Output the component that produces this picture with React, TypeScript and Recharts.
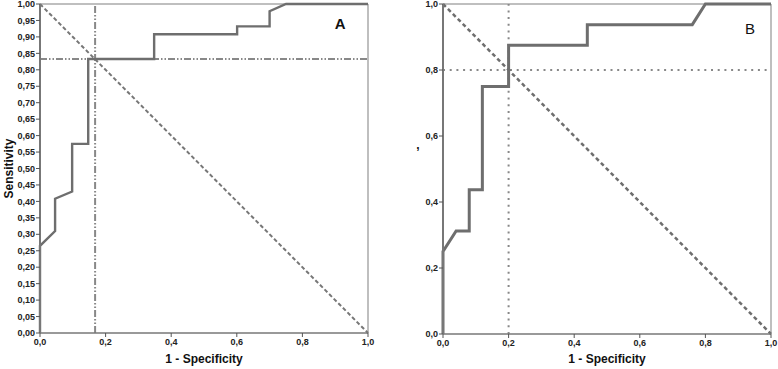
import React from 'react';
import { LineChart, Line, XAxis, YAxis, ReferenceLine, ReferenceDot } from 'recharts';

// panel A: ROC curve (1 - specificity, sensitivity)
const rocA = [
  { x: 0, y: 0 }, { x: 0, y: 0.265 }, { x: 0.046, y: 0.31 }, { x: 0.046, y: 0.408 },
  { x: 0.098, y: 0.43 }, { x: 0.098, y: 0.575 }, { x: 0.147, y: 0.575 }, { x: 0.147, y: 0.833 },
  { x: 0.348, y: 0.833 }, { x: 0.348, y: 0.908 }, { x: 0.601, y: 0.908 }, { x: 0.601, y: 0.932 },
  { x: 0.7, y: 0.932 }, { x: 0.7, y: 0.978 }, { x: 0.75, y: 1 }, { x: 1, y: 1 },
];

// panel B
const rocB = [
  { x: 0, y: 0 }, { x: 0, y: 0.25 }, { x: 0.04, y: 0.3125 }, { x: 0.08, y: 0.3125 },
  { x: 0.08, y: 0.4375 }, { x: 0.12, y: 0.4375 }, { x: 0.12, y: 0.75 }, { x: 0.2, y: 0.75 },
  { x: 0.2, y: 0.875 }, { x: 0.44, y: 0.875 }, { x: 0.44, y: 0.9375 }, { x: 0.76, y: 0.9375 },
  { x: 0.8, y: 1 }, { x: 1, y: 1 },
];

const diagonal = [{ x: 0, y: 1 }, { x: 1, y: 0 }];

const cutA = { x: 0.168, y: 0.833 };
const cutB = { x: 0.2, y: 0.8 };

const xTicks = [0, 0.2, 0.4, 0.6, 0.8, 1];
const yTicksA = [0, 0.05, 0.1, 0.15, 0.2, 0.25, 0.3, 0.35, 0.4, 0.45, 0.5, 0.55, 0.6, 0.65, 0.7, 0.75, 0.8, 0.85, 0.9, 0.95, 1];
const yTicksB = [0, 0.2, 0.4, 0.6, 0.8, 1];

const comma = (d: number) => (v: number) => v.toFixed(d).replace('.', ',');

const tickStyle = { fontSize: 9, fontWeight: 700, fill: '#222', fontFamily: 'Liberation Sans, Arial, sans-serif' };
const axisStroke = { stroke: '#777', strokeWidth: 1.5 };

const yTitle = (text: string, dx: number, dy: number, rotate: boolean) => (props: any) => {
  const vb = props.viewBox;
  const cx = vb.x + dx;
  const cy = vb.y + vb.height / 2 + dy;
  return (
    <text
      x={cx}
      y={cy}
      textAnchor="middle"
      dominantBaseline="central"
      transform={rotate ? `rotate(-90 ${cx} ${cy})` : undefined}
      style={{ fontSize: 12, fontWeight: 700, fill: '#111', fontFamily: 'Liberation Sans, Arial, sans-serif' }}
    >
      {text}
    </text>
  );
};

const xTitle = {
  value: '1 - Specificity',
  position: 'insideBottom' as const,
  offset: 6,
  style: { fontSize: 12, fontWeight: 700, fill: '#111', fontFamily: 'Liberation Sans, Arial, sans-serif' },
};

const panelLabel = (text: string, bold: boolean) => ({
  value: text,
  position: 'center' as const,
  style: { fontSize: 15, fontWeight: bold ? 700 : 400, fill: '#111', fontFamily: 'Liberation Sans, Arial, sans-serif' },
});

export default function App() {
  return (
    <div style={{ position: 'absolute', left: 0, top: 0, width: 778, height: 369, background: '#fff' }}>
      <div style={{ position: 'absolute', left: 0, top: 0 }}>
        <LineChart width={389} height={369} margin={{ top: 4, right: 21, left: 0, bottom: 0 }}>
          <XAxis
            type="number"
            dataKey="x"
            domain={[0, 1]}
            ticks={xTicks}
            tickFormatter={comma(1)}
            tick={tickStyle}
            tickSize={4}
            tickMargin={2}
            height={36}
            axisLine={axisStroke}
            tickLine={{ stroke: '#555' }}
            label={xTitle}
          />
          <YAxis
            type="number"
            dataKey="y"
            domain={[0, 1]}
            ticks={yTicksA}
            interval={0}
            tickFormatter={comma(2)}
            tick={tickStyle}
            tickSize={4}
            tickMargin={1}
            width={40}
            axisLine={{ stroke: '#777', strokeWidth: 2 }}
            tickLine={{ stroke: '#555' }}
            label={{ content: yTitle('Sensitivity', 9, 0, true) }}
          />
          <ReferenceLine y={1} stroke="#aaa" strokeWidth={1.5} />
          <ReferenceLine x={1} stroke="#aaa" strokeWidth={1.5} />
          <ReferenceLine x={cutA.x} stroke="#888" strokeWidth={2} strokeDasharray="7 2 1.5 2 1.5 2" />
          <ReferenceLine y={cutA.y} stroke="#888" strokeWidth={2} strokeDasharray="7 2 1.5 2 1.5 2" />
          <Line data={diagonal} dataKey="y" type="linear" stroke="#777" strokeWidth={2} strokeDasharray="4 2.5" dot={false} isAnimationActive={false} />
          <Line data={rocA} dataKey="y" type="linear" stroke="#6e6e6e" strokeWidth={2.4} dot={false} isAnimationActive={false} />
          <ReferenceDot x={0.915} y={0.941} r={0} fill="none" stroke="none" label={panelLabel('A', true)} />
        </LineChart>
      </div>
      <div style={{ position: 'absolute', left: 389, top: 0 }}>
        <LineChart width={389} height={369} margin={{ top: 4, right: 7, left: 0, bottom: 0 }}>
          <XAxis
            type="number"
            dataKey="x"
            domain={[0, 1]}
            ticks={xTicks}
            tickFormatter={comma(1)}
            tick={tickStyle}
            tickSize={4}
            tickMargin={2}
            height={35}
            axisLine={axisStroke}
            tickLine={{ stroke: '#555' }}
            label={xTitle}
          />
          <YAxis
            type="number"
            dataKey="y"
            domain={[0, 1]}
            ticks={yTicksB}
            interval={0}
            tickFormatter={comma(1)}
            tick={tickStyle}
            tickSize={4}
            tickMargin={1}
            width={54}
            axisLine={{ stroke: '#777', strokeWidth: 2 }}
            tickLine={{ stroke: '#555' }}
            label={{ content: yTitle(',', 29, -24, false) }}
          />
          <ReferenceLine y={1} stroke="#aaa" strokeWidth={1.5} />
          <ReferenceLine x={1} stroke="#aaa" strokeWidth={1.5} />
          <ReferenceLine x={cutB.x} stroke="#888" strokeWidth={2} strokeDasharray="2 4.7" />
          <ReferenceLine y={cutB.y} stroke="#888" strokeWidth={2} strokeDasharray="2 4.7" />
          <Line data={diagonal} dataKey="y" type="linear" stroke="#6e6e6e" strokeWidth={2.5} strokeDasharray="4 3" dot={false} isAnimationActive={false} />
          <Line data={rocB} dataKey="y" type="linear" stroke="#6e6e6e" strokeWidth={3} dot={false} isAnimationActive={false} />
          <ReferenceDot x={0.936} y={0.926} r={0} fill="none" stroke="none" label={panelLabel('B', false)} />
        </LineChart>
      </div>
    </div>
  );
}
